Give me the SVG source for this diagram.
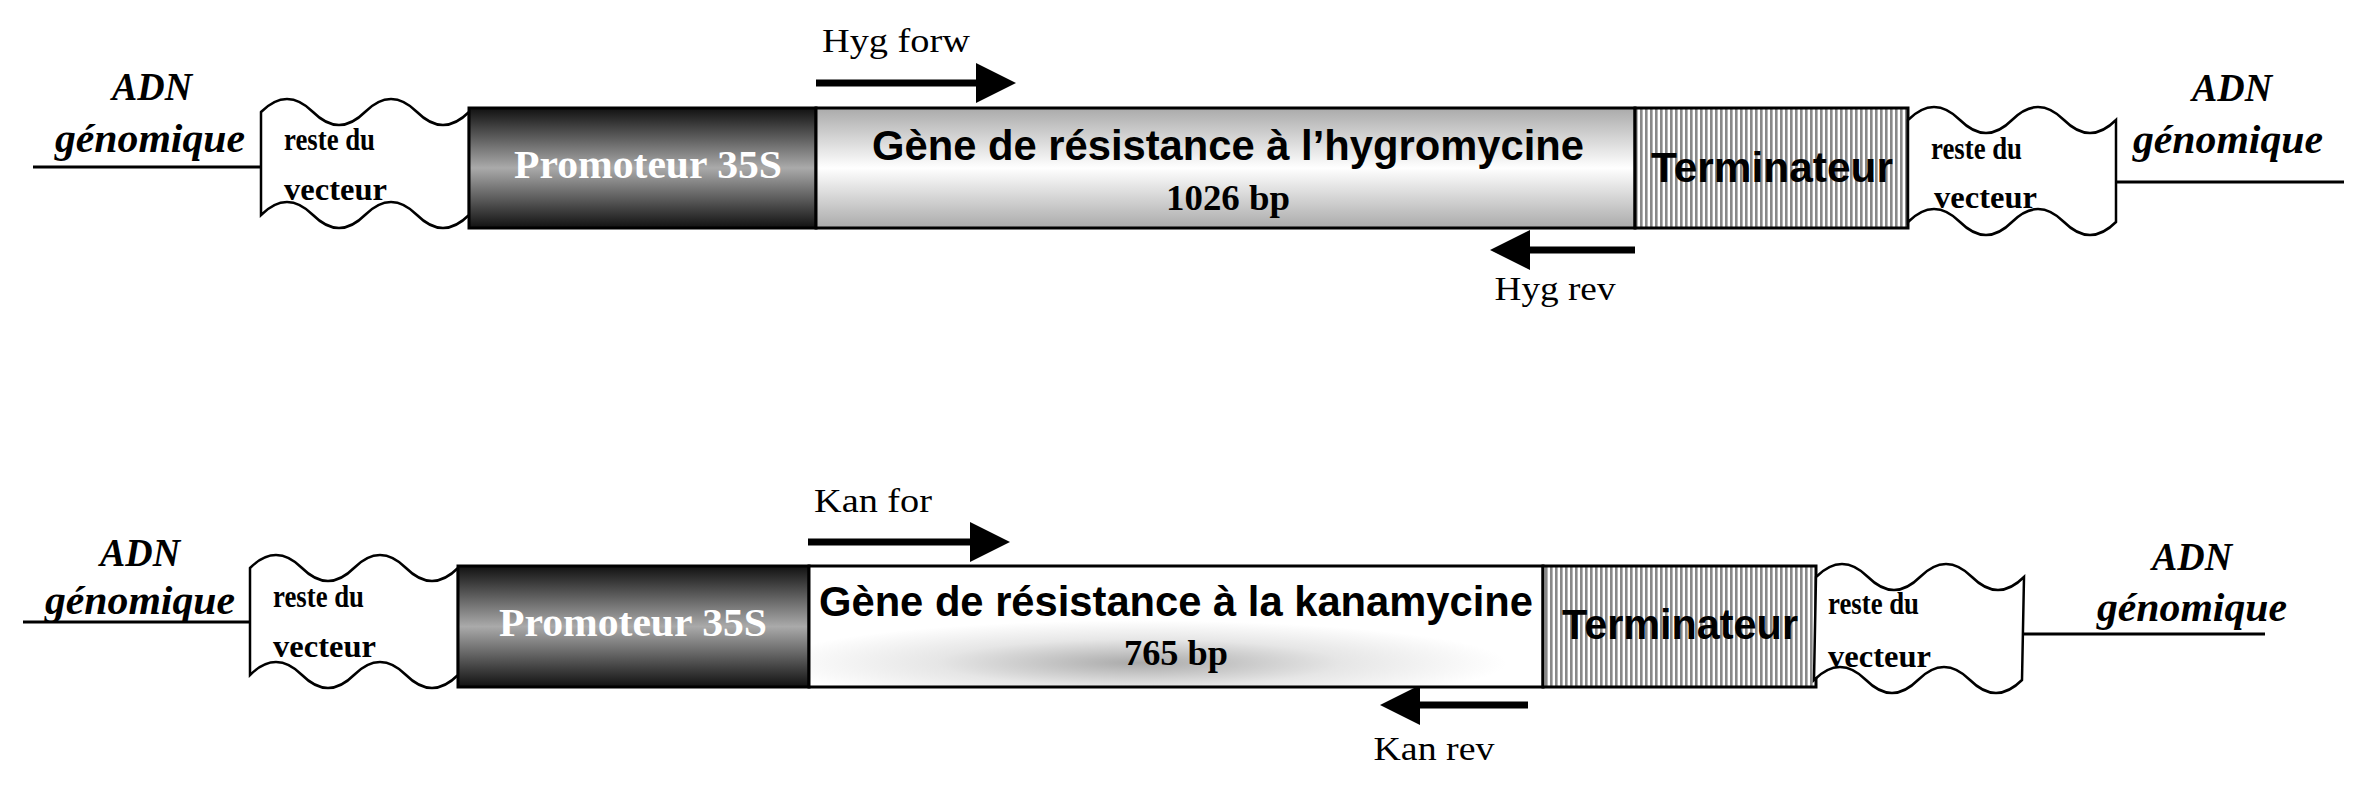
<svg xmlns="http://www.w3.org/2000/svg" width="2367" height="796" viewBox="0 0 2367 796">
<defs>
<linearGradient id="prom" x1="0" y1="0" x2="0" y2="1"><stop offset="0" stop-color="#111"/><stop offset="0.5" stop-color="#aaa"/><stop offset="1" stop-color="#111"/></linearGradient>
<linearGradient id="hyg" x1="0" y1="0" x2="0" y2="1"><stop offset="0" stop-color="#aaa"/><stop offset="0.5" stop-color="#fff"/><stop offset="1" stop-color="#aaa"/></linearGradient>
<radialGradient id="kan" cx="0.45" cy="0.8" r="0.5" gradientTransform="translate(0.45 0.8) scale(1 0.7) translate(-0.45 -0.8)"><stop offset="0" stop-color="#aaa"/><stop offset="0.55" stop-color="#e6e6e6"/><stop offset="1" stop-color="#fff"/></radialGradient>
<pattern id="stripes" width="5" height="10" patternUnits="userSpaceOnUse"><rect width="5" height="10" fill="#fff"/><rect width="2.6" height="10" fill="#888"/></pattern>
</defs>
<style>
.box{stroke:#000;stroke-width:3}
.wave{fill:#fff;stroke:#000;stroke-width:2.5}
.ln{stroke:#000;stroke-width:3;fill:none}
.arr{stroke:#000;stroke-width:7}
.head{fill:#000}
.adn{font-family:"Liberation Serif",serif;font-weight:bold;font-style:italic;font-size:40px;text-anchor:middle}
.rv{font-family:"Liberation Serif",serif;font-weight:bold;font-size:31px}
.pr{font-family:"Liberation Serif",serif;font-weight:bold;font-size:40px;fill:#fff;text-anchor:middle}
.gn{font-family:"Liberation Sans",sans-serif;font-weight:bold;font-size:42px;text-anchor:middle}
.bp{font-family:"Liberation Serif",serif;font-weight:bold;font-size:36px;text-anchor:middle}
.tm{font-family:"Liberation Sans",sans-serif;font-weight:bold;font-size:42px;text-anchor:middle}
.pl{font-family:"Liberation Serif",serif;font-size:34px}
</style>
<g id="connectors">
<line class="ln" x1="33" y1="167" x2="261" y2="167"/>
<line class="ln" x1="2116" y1="182" x2="2344" y2="182"/>
<line class="ln" x1="23" y1="622" x2="250" y2="622"/>
<line class="ln" x1="2022" y1="634" x2="2265" y2="634"/>
<line class="arr" x1="816" y1="83" x2="980" y2="83"/><path class="head" d="M976,63 L1016,83 L976,103 z"/>
<line class="arr" x1="1635" y1="250" x2="1525" y2="250"/><path class="head" d="M1530,230 L1490,250 L1530,270 z"/>
<line class="arr" x1="808" y1="542" x2="975" y2="542"/><path class="head" d="M970,522 L1010,542 L970,562 z"/>
<line class="arr" x1="1528" y1="705" x2="1420" y2="705"/><path class="head" d="M1420,685 L1380,705 L1420,725 z"/>
</g>
<g id="hyg-construct">
<g id="left-gen-1"><text class="adn" x="152" y="100" textLength="80" lengthAdjust="spacingAndGlyphs">ADN</text><text class="adn" x="150" y="152" textLength="190" lengthAdjust="spacingAndGlyphs">génomique</text></g>
<g id="left-vec-1"><path class="wave" d="M261,112 q26,-26 52,0 t52,0 t52,0 t52,0 L469,215 q-26,26 -52,0 t-52,0 t-52,0 t-52,0 z"/><text class="rv" x="284" y="150" textLength="91" lengthAdjust="spacingAndGlyphs">reste du</text><text class="rv" x="284" y="200" textLength="103" lengthAdjust="spacingAndGlyphs">vecteur</text></g>
<g id="prom-1"><rect class="box" x="469" y="108" width="347" height="120" fill="url(#prom)"/><text class="pr" x="648" y="178" textLength="268" lengthAdjust="spacingAndGlyphs">Promoteur 35S</text></g>
<g id="gene-1"><rect class="box" x="816" y="108" width="819" height="120" fill="url(#hyg)"/><text class="gn" x="1228" y="160" textLength="712" lengthAdjust="spacingAndGlyphs">Gène de résistance à l’hygromycine</text><text class="bp" x="1228" y="210" textLength="124" lengthAdjust="spacingAndGlyphs">1026 bp</text></g>
<g id="term-1"><rect class="box" x="1635" y="108" width="273" height="120" fill="url(#stripes)"/><text class="tm" x="1772" y="182" textLength="242" lengthAdjust="spacingAndGlyphs">Terminateur</text></g>
<g id="right-vec-1"><path class="wave" d="M1908,120 q26,-26 52,0 t52,0 t52,0 t52,0 L2116,222 q-26,26 -52,0 t-52,0 t-52,0 t-52,0 z"/><text class="rv" x="1931" y="159" textLength="91" lengthAdjust="spacingAndGlyphs">reste du</text><text class="rv" x="1934" y="208" textLength="103" lengthAdjust="spacingAndGlyphs">vecteur</text></g>
<g id="right-gen-1"><text class="adn" x="2232" y="101" textLength="80" lengthAdjust="spacingAndGlyphs">ADN</text><text class="adn" x="2228" y="153" textLength="190" lengthAdjust="spacingAndGlyphs">génomique</text></g>
<g id="hygf"><text class="pl" x="822" y="52" textLength="148" lengthAdjust="spacingAndGlyphs">Hyg forw</text></g>
<g id="hygr"><text class="pl" x="1555" y="300" text-anchor="middle" textLength="121" lengthAdjust="spacingAndGlyphs">Hyg rev</text></g>
</g>
<g id="kan-construct">
<g id="left-gen-2"><text class="adn" x="140" y="566" textLength="80" lengthAdjust="spacingAndGlyphs">ADN</text><text class="adn" x="140" y="614" textLength="190" lengthAdjust="spacingAndGlyphs">génomique</text></g>
<g id="left-vec-2"><path class="wave" d="M250,568 q26,-26 52,0 t52,0 t52,0 t52,0 L458,675 q-26,26 -52,0 t-52,0 t-52,0 t-52,0 z"/><text class="rv" x="273" y="607" textLength="91" lengthAdjust="spacingAndGlyphs">reste du</text><text class="rv" x="273" y="657" textLength="103" lengthAdjust="spacingAndGlyphs">vecteur</text></g>
<g id="prom-2"><rect class="box" x="458" y="566" width="351" height="121" fill="url(#prom)"/><text class="pr" x="633" y="636" textLength="268" lengthAdjust="spacingAndGlyphs">Promoteur 35S</text></g>
<g id="gene-2"><rect class="box" x="809" y="566" width="734" height="121" fill="url(#kan)"/><text class="gn" x="1176" y="616" textLength="714" lengthAdjust="spacingAndGlyphs">Gène de résistance à la kanamycine</text><text class="bp" x="1176" y="665" textLength="104" lengthAdjust="spacingAndGlyphs">765 bp</text></g>
<g id="term-2"><rect class="box" x="1543" y="566" width="273" height="121" fill="url(#stripes)"/><text class="tm" x="1680" y="639" textLength="236" lengthAdjust="spacingAndGlyphs">Terminateur</text></g>
<g id="right-vec-2"><path class="wave" d="M1816,577 q26,-26 52,0 t52,0 t52,0 t52,0 L2022,680 q-26,26 -52,0 t-52,0 t-52,0 t-52,0 z"/><text class="rv" x="1828" y="614" textLength="91" lengthAdjust="spacingAndGlyphs">reste du</text><text class="rv" x="1828" y="667" textLength="103" lengthAdjust="spacingAndGlyphs">vecteur</text></g>
<g id="right-gen-2"><text class="adn" x="2192" y="570" textLength="80" lengthAdjust="spacingAndGlyphs">ADN</text><text class="adn" x="2192" y="621" textLength="190" lengthAdjust="spacingAndGlyphs">génomique</text></g>
<g id="kanf"><text class="pl" x="814" y="512" textLength="118" lengthAdjust="spacingAndGlyphs">Kan for</text></g>
<g id="kanr"><text class="pl" x="1434" y="760" text-anchor="middle" textLength="121" lengthAdjust="spacingAndGlyphs">Kan rev</text></g>
</g>
</svg>
